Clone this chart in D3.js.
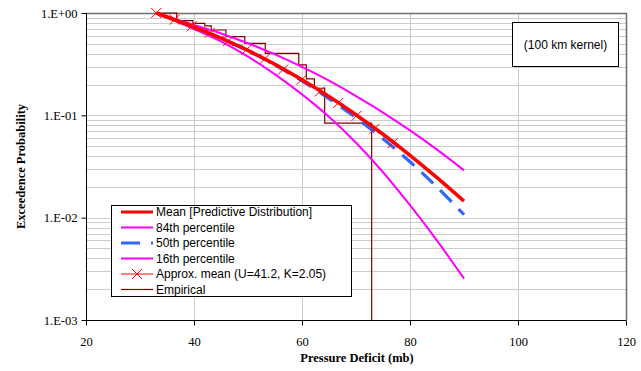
<!DOCTYPE html>
<html>
<head>
<meta charset="utf-8">
<script src="https://d3js.org/d3.v7.min.js"></script>
<style>
  body { margin: 0; background: #fff; }
  svg { display: block; }
</style>
</head>
<body>
<div id="chart"></div>
<script>
// values
var xTicks = [20, 40, 60, 80, 100, 120]
var yTicks = [1, 0.1, 0.01, 0.001]
var curveX = [33, 40, 45, 50, 55, 60, 65, 70, 75, 80, 85, 90]
var meanP = [1.0, 0.729, 0.569, 0.431, 0.315, 0.2225, 0.1526, 0.1013, 0.0653, 0.0407, 0.0246, 0.0145]
var p84 = [1.0, 0.764, 0.631, 0.506, 0.394, 0.297, 0.218, 0.154, 0.1065, 0.0712, 0.0462, 0.029]
var p50 = [1.0, 0.729, 0.5665, 0.425, 0.311, 0.2176, 0.1458, 0.0947, 0.059, 0.0352, 0.0199, 0.0107]
var p16 = [1.0, 0.698, 0.527, 0.374, 0.251, 0.1603, 0.0967, 0.0539, 0.0278, 0.01324, 0.00597, 0.00254]
var approxX = [33.0, 36.4, 39.6, 42.9, 46.3, 49.7, 53.1, 56.5, 59.9, 63.3, 66.7, 70.1, 73.4, 76.8]
var approxP = [1.0, 0.860, 0.742, 0.638, 0.530, 0.438, 0.356, 0.280, 0.222, 0.171, 0.132, 0.0989, 0.0738, 0.0535]
var empX = [33.0, 36.8, 39.8, 42.0, 43.2, 45.9, 49.4, 53.2, 59.4, 60.8, 62.3, 64.2, 72.9]
var empP = [1.0, 0.841, 0.793, 0.747, 0.682, 0.587, 0.506, 0.404, 0.311, 0.227, 0.184, 0.0839]
var legendLabels = ["Mean [Predictive Distribution]", "84th percentile", "50th percentile",
  "16th percentile", "Approx. mean (U=41.2, K=2.05)", "Empirical"]

var width = 641, height = 371
// plot area edges (in pixels)
var pL = 86, pR = 626, pT = 13, pB = 320

var svg = d3.select("#chart").append("svg")
  .attr("width", width)
  .attr("height", height)

var x = d3.scaleLinear().domain([20, 120]).range([pL, pR])
var y = d3.scaleLog().domain([0.001, 1]).range([pB, pT])

// grid lines
var minor = []
for (var e = -3; e < 0; e++) {
  for (var k = 1; k < 10; k++) minor.push(k * Math.pow(10, e))
}
svg.append("g").selectAll("line")
  .data(minor)
  .enter().append("line")
    .attr("x1", pL).attr("x2", pR + 1)
    .attr("y1", function(d) { return Math.round(y(d)) + 0.5 })
    .attr("y2", function(d) { return Math.round(y(d)) + 0.5 })
    .attr("stroke", "#cccccc")
svg.append("g").selectAll("line")
  .data(xTicks.slice(1, -1))
  .enter().append("line")
    .attr("x1", function(d) { return Math.round(x(d)) + 0.5 })
    .attr("x2", function(d) { return Math.round(x(d)) + 0.5 })
    .attr("y1", pT).attr("y2", pB)
    .attr("stroke", "#cccccc")

// plot border (top / right)
svg.append("path")
  .attr("d", "M" + pL + "," + (pT + 0.5) + "H" + (pR + 0.5) + "V" + pB)
  .attr("fill", "none")
  .attr("stroke", "#707070")
  .attr("stroke-width", 1.5)

// axes
var fmt = function(d) {
  var p = Math.round(Math.log10(d))
  return "1.E" + (p < 0 ? "-" : "+") + String(Math.abs(p)).padStart(2, "0")
}
var gy = svg.append("g")
  .attr("transform", "translate(" + (pL + 0.5) + ",0)")
  .call(d3.axisLeft(y).tickValues(yTicks).tickFormat(fmt).tickSize(5).tickPadding(4))
var gx = svg.append("g")
  .attr("transform", "translate(0," + (pB + 0.5) + ")")
  .call(d3.axisBottom(x).tickValues(xTicks).tickFormat(d3.format("d")).tickSize(5).tickPadding(12))
svg.selectAll(".domain").attr("stroke", "#000")
svg.selectAll(".tick line").attr("stroke", "#000")
svg.selectAll(".tick text")
  .attr("font-family", "'Liberation Serif', 'Times New Roman', serif")
  .attr("font-size", "12.5px")
  .attr("fill", "#000")
gy.select(".domain").attr("d", "M0," + pT + "V" + pB)
gx.select(".domain").attr("d", "M" + pL + ",0H" + pR)

// axis titles
svg.append("text")
  .attr("x", (pL + pR) / 2 + 1)
  .attr("y", 362)
  .attr("text-anchor", "middle")
  .attr("font-family", "'Liberation Serif', serif")
  .attr("font-weight", "bold")
  .attr("font-size", "12.5px")
  .text("Pressure Deficit (mb)")
svg.append("text")
  .attr("transform", "translate(25," + ((pT + pB) / 2) + ") rotate(-90)")
  .attr("text-anchor", "middle")
  .attr("font-family", "'Liberation Serif', serif")
  .attr("font-weight", "bold")
  .attr("font-size", "12.5px")
  .text("Exceedence Probability")

var line = d3.line()
  .x(function(d) { return x(d[0]) })
  .y(function(d) { return y(d[1]) })
  .curve(d3.curveCatmullRom.alpha(0.5))

function pairs(xs, ys) { return xs.map(function(v, i) { return [v, ys[i]] }) }

var plot = svg.append("g")

// empirical step
var emp = empP.map(function(p, i) { return [empX[i], p] })
emp.push([empX[empX.length - 1], empP[empP.length - 1]])
emp.push([empX[empX.length - 1], 0.001])
plot.append("path")
  .datum(emp)
  .attr("fill", "none")
  .attr("stroke", "#800000")
  .attr("stroke-width", 1.2)
  .attr("d", d3.line().x(function(d) { return x(d[0]) }).y(function(d) { return y(d[1]) }).curve(d3.curveStepAfter))

var series = [
  { data: pairs(curveX, p84), color: "#ff00ff", w: 2, dash: null },
  { data: pairs(curveX, p16), color: "#ff00ff", w: 2, dash: null },
  { data: pairs(curveX, p50), color: "#3366ff", w: 3.2, dash: "16,10" },
  { data: pairs(curveX, meanP), color: "#ff0000", w: 3.5, dash: null }
]
series.forEach(function(s) {
  plot.append("path")
    .datum(s.data)
    .attr("fill", "none")
    .attr("stroke", s.color)
    .attr("stroke-width", s.w)
    .attr("stroke-dasharray", s.dash)
    .attr("d", line)
})

// approx mean with x markers
var approx = pairs(approxX, approxP)
plot.append("path")
  .datum(approx)
  .attr("fill", "none")
  .attr("stroke", "#ff0000")
  .attr("stroke-width", 1)
  .attr("d", line)
plot.selectAll(".mk")
  .data(approx)
  .enter().append("path")
    .attr("class", "mk")
    .attr("transform", function(d) { return "translate(" + x(d[0]) + "," + y(d[1]) + ")" })
    .attr("d", "M-5,-5L5,5M-5,5L5,-5")
    .attr("stroke", "#ff0000")
    .attr("stroke-width", 1)

// legend
var lg = svg.append("g")
lg.append("rect")
  .attr("x", 111.5).attr("y", 205.5)
  .attr("width", 240).attr("height", 91)
  .attr("fill", "#fff")
  .attr("stroke", "#000")
var legendStyle = [
  { color: "#ff0000", w: 3, dash: null },
  { color: "#ff00ff", w: 2, dash: null },
  { color: "#3366ff", w: 3, dash: "19,11" },
  { color: "#ff00ff", w: 2, dash: null },
  { color: "#ff0000", w: 1, dash: null },
  { color: "#800000", w: 1.2, dash: null }
]
legendLabels.forEach(function(label, i) {
  var ry = 212 + i * 15.5
  var st = legendStyle[i]
  lg.append("line")
    .attr("x1", 121).attr("x2", 153)
    .attr("y1", ry).attr("y2", ry)
    .attr("stroke", st.color)
    .attr("stroke-width", st.w)
    .attr("stroke-dasharray", st.dash)
  if (i == 4) {
    lg.append("path")
      .attr("transform", "translate(137," + ry + ")")
      .attr("d", "M-5,-5L5,5M-5,5L5,-5")
      .attr("stroke", "#ff0000")
  }
  lg.append("text")
    .attr("x", 156).attr("y", ry)
    .attr("dy", "0.36em")
    .attr("font-family", "'Liberation Sans', Arial, sans-serif")
    .attr("font-size", "12px")
    .text(label)
})

// note box
svg.append("rect")
  .attr("x", 512.5).attr("y", 22.5)
  .attr("width", 106).attr("height", 44)
  .attr("fill", "#fff")
  .attr("stroke", "#000")
svg.append("text")
  .attr("x", 565.5).attr("y", 44.5)
  .attr("dy", "0.36em")
  .attr("text-anchor", "middle")
  .attr("font-family", "'Liberation Sans', Arial, sans-serif")
  .attr("font-size", "12px")
  .text("(100 km kernel)")
</script>
</body>
</html>
